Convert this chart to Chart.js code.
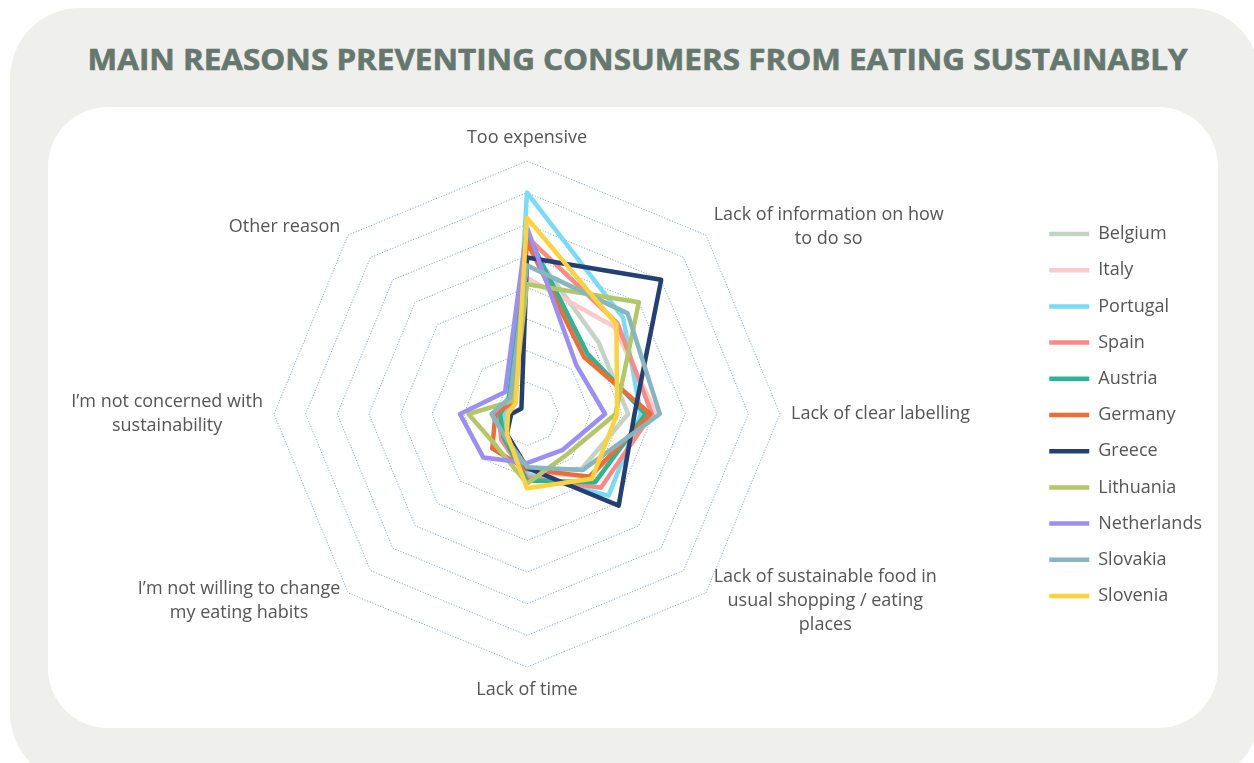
<!DOCTYPE html>
<html><head><meta charset="utf-8">
<script src="https://cdn.jsdelivr.net/npm/chart.js@4/dist/chart.umd.min.js"></script>
<style>
html,body{margin:0;padding:0;width:1254px;height:763px;overflow:hidden;background:#fff;}
#outer{position:absolute;left:10px;top:8px;width:1250px;height:775px;background:#efefed;border-radius:70px;}
#inner{position:absolute;left:48px;top:107px;width:1170px;height:621px;background:#fff;border-radius:60px;}
#title{position:absolute;left:0;width:1276px;top:44px;height:30px;line-height:30px;text-align:center;white-space:nowrap;}
#title span{display:inline-block;font-family:'Open Sans';font-weight:700;font-size:29px;color:#66786d;-webkit-text-stroke:0.6px #66786d;transform-origin:center;}
#wrap{position:absolute;left:0;top:0;width:1254px;height:763px;}
</style></head>
<body>
<div id="outer"></div><div id="inner"></div>
<div id="title"><span id="tspan">MAIN REASONS PREVENTING CONSUMERS FROM EATING SUSTAINABLY</span></div>
<div id="wrap"><canvas id="c" width="1254" height="763"></canvas></div>
<script>
const categories = [
  "Too expensive",
  ["Lack of information on how", "to do so"],
  "Lack of clear labelling",
  ["Lack of sustainable food in", "usual shopping / eating", "places"],
  "Lack of time",
  ["I’m not willing to change", "my eating habits"],
  ["I’m not concerned with", "sustainability"],
  "Other reason"
];
const countries = ["Belgium","Italy","Portugal","Spain","Austria","Germany","Greece","Lithuania","Netherlands","Slovakia","Slovenia"];
const belgium     = [54, 32, 32, 24.5, 18, 10, 8, 6];
const italy       = [43, 39, 41, 28, 18.5, 10, 8, 5.5];
const portugal    = [70, 43, 36, 36.5, 19, 9.5, 7, 5.5];
const spain       = [56, 40.5, 39.5, 33, 20, 11.5, 9, 6];
const austria     = [57, 27, 37.5, 30.5, 21, 10.5, 8.5, 8];
const germany     = [54.5, 25.5, 39, 28, 17.5, 15.5, 10, 6];
const greece      = [49.5, 60, 34, 41, 17, 9, 5, 2.5];
const lithuania   = [41, 50, 28, 18, 22, 14, 18.5, 6];
const netherlands = [59, 22, 24.7, 16, 15.5, 19.5, 21.2, 9.8];
const slovakia    = [47, 45, 42, 25, 16.8, 10, 11.2, 7.5];
const slovenia    = [62, 40, 28.5, 29, 23.5, 9, 6, 5];
const seriesValues = [belgium, italy, portugal, spain, austria, germany, greece, lithuania, netherlands, slovakia, slovenia];
const colors = ["#c4d3c6","#fccaca","#79dcf6","#fb8a85","#2cb594","#ec6d37","#233f73","#b4c767","#9b8ff5","#87b6c1","#fed23c"];
const radialTicks = {min: 0, max: 80, step: 10};

const labelPlugin = {
  id: 'axisLabels',
  afterDraw(chart) {
    const s = chart.scales.r, ctx = chart.ctx;
    ctx.save();
    ctx.font = '18px "Open Sans"';
    ctx.fillStyle = '#555555';
    ctx.textBaseline = 'middle';
    ctx.textAlign = 'center';
    const lh = 24;
    categories.forEach((lab, i) => {
      const lines = Array.isArray(lab) ? lab : [lab];
      const p = s.getPointPosition(i, s.drawingArea + 11);
      const bw = Math.max(...lines.map(l => ctx.measureText(l).width));
      const bh = lines.length * lh;
      const dx = p.x - s.xCenter, dy = p.y - s.yCenter;
      let cx, top;
      if (Math.abs(dx) < 1) { cx = p.x; top = dy < 0 ? p.y - bh : p.y; }
      else { cx = dx > 0 ? p.x + bw / 2 : p.x - bw / 2; top = p.y - bh / 2; }
      lines.forEach((l, k) => ctx.fillText(l, cx, top + lh * k + lh / 2));
    });
    ctx.restore();
  }
};

function build() {
  const span = document.getElementById('tspan');
  const w = span.getBoundingClientRect().width;
  span.style.transform = 'scaleX(' + (1100 / w) + ')';

  new Chart(document.getElementById('c'), {
    type: 'radar',
    data: {
      labels: categories,
      datasets: countries.map((name, i) => ({
        label: name,
        data: seriesValues[i],
        borderColor: colors[i],
        backgroundColor: colors[i],
        borderWidth: 4.5,
        fill: false,
        pointRadius: 0,
        pointHoverRadius: 0,
        borderCapStyle: 'round',
        borderJoinStyle: 'round',
        order: countries.length - i,
        clip: false
      }))
    },
    options: {
      responsive: false,
      animation: false,
      devicePixelRatio: 1,
      layout: {padding: {top: 82, bottom: 15, right: 42, left: 0}},
      scales: {
        r: {
          min: radialTicks.min, max: radialTicks.max,
          ticks: {display: false, stepSize: radialTicks.step},
          grid: {color: '#8fb0d0', lineWidth: 1},
          border: {dash: [1.2, 1.6]},
          angleLines: {display: false},
          pointLabels: {display: false},
          afterFit(s) { s.xCenter = 527; s.yCenter = 414; s.drawingArea = 253; }
        }
      },
      plugins: {
        tooltip: {enabled: false},
        legend: {
          position: 'right',
          align: 'center',
          labels: {
            usePointStyle: true,
            pointStyle: 'line',
            pointStyleWidth: 40,
            padding: 18.2,
            color: '#555555',
            font: {family: 'Open Sans', size: 18},
            sort: (a, b) => a.datasetIndex - b.datasetIndex
          }
        }
      }
    },
    plugins: [labelPlugin]
  });
}
if (document.fonts && document.fonts.ready) {
  Promise.all([document.fonts.load('700 29px "Open Sans"'), document.fonts.load('18px "Open Sans"')]).then(build, build);
} else build();
</script>
</body></html>
